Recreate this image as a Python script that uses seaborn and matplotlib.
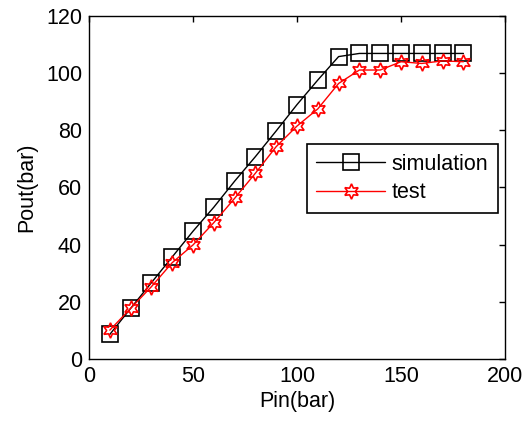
import matplotlib
matplotlib.use("Agg")
import matplotlib.pyplot as plt
import seaborn as sns
import pandas as pd

pin = [10, 20, 30, 40, 50, 60, 70, 80, 90, 100, 110, 120, 130, 140, 150, 160, 170, 180]
simulation = [8.6, 17.7, 26.7, 35.7, 44.7, 53.1, 62.2, 70.8, 79.8, 89.0, 97.6, 105.8,
              106.9, 106.9, 106.9, 106.9, 106.9, 106.9]
test = [10.1, 17.7, 25.3, 33.7, 39.9, 47.7, 56.2, 65.0, 74.3, 81.5, 87.5, 96.4,
        101.1, 101.1, 104.0, 103.4, 104.3, 104.0]

sns.set_style("white")
plt.rcParams['font.family'] = ['Liberation Sans', 'DejaVu Sans']
plt.rcParams['text.color'] = 'black'
plt.rcParams['axes.labelcolor'] = 'black'

fig = plt.figure(figsize=(5.26, 4.21), dpi=100)
ax = fig.add_axes([89/526, 1 - 359/421, (505 - 89)/526, (359 - 16)/421])

df = pd.DataFrame({"Pin": pin, "simulation": simulation, "test": test})

sns.lineplot(data=df, x="Pin", y="simulation", ax=ax, color="black", lw=1,
             marker="s", markersize=12, markerfacecolor="none",
             markeredgecolor="black", markeredgewidth=1.2, label="simulation")
sns.lineplot(data=df, x="Pin", y="test", ax=ax, color="red", lw=1,
             marker=(6, 1, 0), markersize=11, markerfacecolor="none",
             markeredgecolor="red", markeredgewidth=1.2, label="test")

ax.set_xlim(0, 200)
ax.set_ylim(0, 120)
ax.set_xticks([0, 50, 100, 150, 200])
ax.set_yticks([0, 20, 40, 60, 80, 100, 120])
ax.tick_params(direction="in", length=4, width=1, top=True, right=True,
               labelsize=15.5, colors="black", pad=5)
for s in ax.spines.values():
    s.set_color("black")
    s.set_linewidth(1)
ax.set_xlabel("Pin(bar)", fontsize=15.5, labelpad=3, color="black")
ax.set_ylabel("Pout(bar)", fontsize=15.5, labelpad=6, color="black")

leg = ax.legend(loc="upper right", bbox_to_anchor=(0.983, 0.627), fontsize=15.5,
                frameon=True, fancybox=False, edgecolor="black", framealpha=1,
                borderaxespad=0, handlelength=3.2, handletextpad=0.3,
                labelspacing=0.35, borderpad=0.45, labelcolor="black")
leg.get_frame().set_linewidth(1.2)

fig.savefig("out.png", dpi=100)
